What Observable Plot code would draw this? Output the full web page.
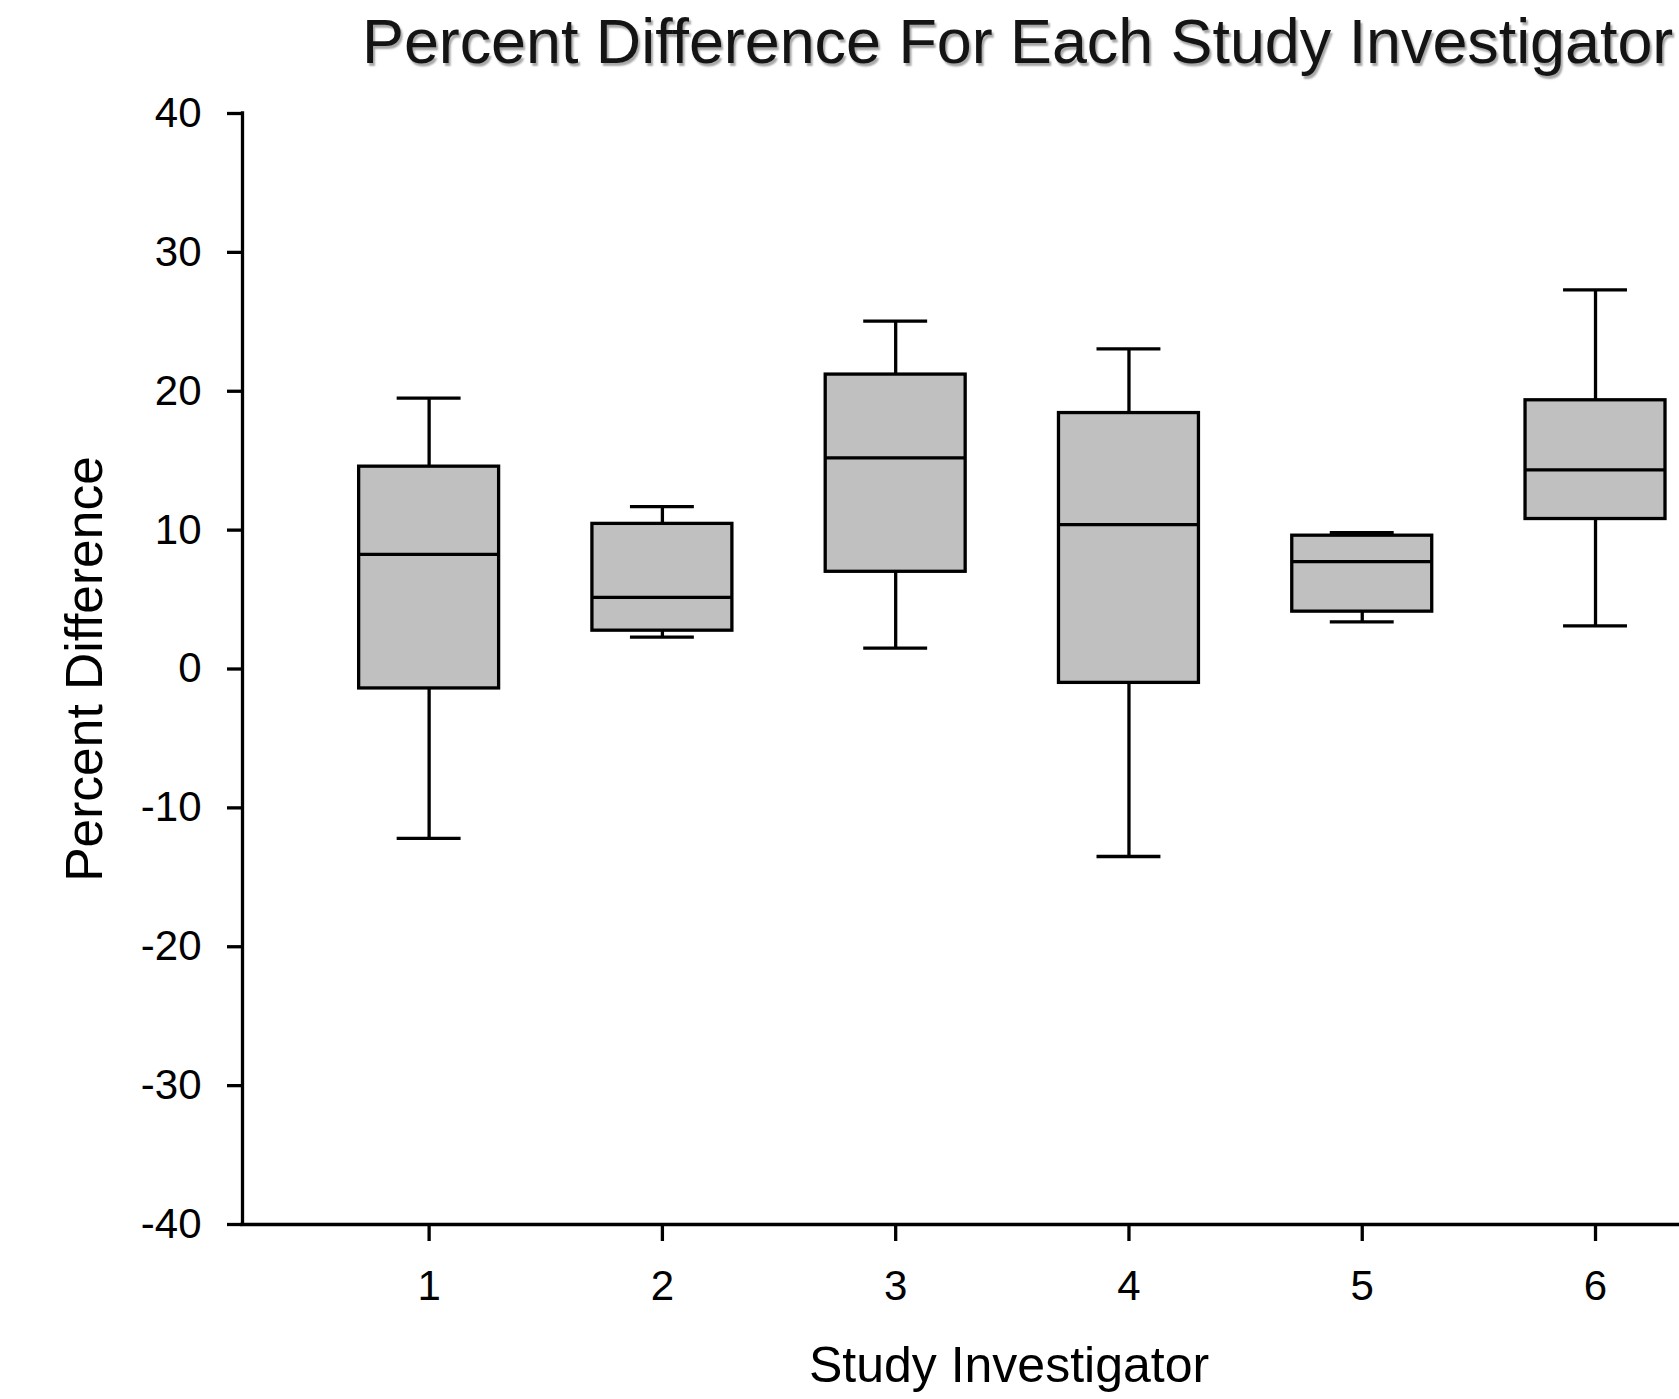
<!DOCTYPE html>
<html>
<head>
<meta charset="utf-8">
<script src="https://cdn.jsdelivr.net/npm/d3@7"></script>
<script src="https://cdn.jsdelivr.net/npm/@observablehq/plot@0.6"></script>
<style>
  html, body { margin: 0; padding: 0; background: #fff; overflow: hidden; width: 1679px; height: 1399px; }
  #title {
    height: 83px; line-height: 83px; padding-left: 362px; white-space: nowrap;
    font-family: "Liberation Sans", Arial, sans-serif; font-size: 62.8px; color: #141414;
    text-shadow: 2px 3px 2px rgba(0,0,0,0.35);
  }
</style>
</head>
<body>
<div id="title">Percent Difference For Each Study Investigator</div>
<div id="chart"></div>
<script>
// Data
const investigators = [1, 2, 3, 4, 5, 6];
const whiskerLow  = [-12.2, 2.3, 1.5, -13.5, 3.4, 3.1];
const q1          = [-1.4, 2.76, 7.0, -1.0, 4.13, 10.8];
const median      = [8.25, 5.16, 15.2, 10.4, 7.73, 14.34];
const q3          = [14.57, 10.45, 21.2, 18.43, 9.6, 19.35];
const whiskerHigh = [19.5, 11.69, 25.05, 23.05, 9.82, 27.3];
const yTicks = [-40, -30, -20, -10, 0, 10, 20, 30, 40];
const xLabel = "Study Investigator";
const yLabel = "Percent Difference";

const data = investigators.map((inv, i) => ({
  inv, low: whiskerLow[i], q1: q1[i], median: median[i], q3: q3[i], high: whiskerHigh[i]
}));

const boxHalf = 0.3;
const capHalf = 0.137;
const lw = 3.3;

const chart = Plot.plot({
  width: 1679,
  height: 1316,
  marginLeft: 242,
  marginRight: 0,
  marginTop: 30,
  marginBottom: 175,
  style: { fontFamily: "'Liberation Sans', Arial, sans-serif", fontSize: "42px", color: "black", background: "white" },
  x: { domain: [0.2, 6.36] },
  y: { domain: [-40, 40] },
  marks: [
    // axes
    Plot.axisX({ ticks: investigators, tickSize: 17, tickPadding: 29, strokeWidth: lw, fontSize: 42, tickFormat: d => String(d), label: null }),
    Plot.axisY({ ticks: yTicks, tickSize: 15, tickPadding: 26, strokeWidth: lw, fontSize: 42, tickFormat: d => String(d), label: null }),
    Plot.ruleY([-40], { stroke: "black", strokeWidth: lw, strokeLinecap: "square" }),
    Plot.ruleX([0.2], { y1: -40, y2: 40, stroke: "black", strokeWidth: lw, strokeLinecap: "square" }),
    // whiskers
    Plot.ruleX(data, { x: "inv", y1: "q3", y2: "high", stroke: "black", strokeWidth: lw }),
    Plot.ruleX(data, { x: "inv", y1: "low", y2: "q1", stroke: "black", strokeWidth: lw }),
    Plot.ruleY(data, { y: "high", x1: d => d.inv - capHalf, x2: d => d.inv + capHalf, stroke: "black", strokeWidth: lw }),
    Plot.ruleY(data, { y: "low", x1: d => d.inv - capHalf, x2: d => d.inv + capHalf, stroke: "black", strokeWidth: lw }),
    // boxes
    Plot.rect(data, { x1: d => d.inv - boxHalf, x2: d => d.inv + boxHalf, y1: "q1", y2: "q3", fill: "#c0c0c0", stroke: "black", strokeWidth: lw }),
    Plot.ruleY(data, { y: "median", x1: d => d.inv - boxHalf, x2: d => d.inv + boxHalf, stroke: "black", strokeWidth: lw }),
    // axis titles
    Plot.text([xLabel], { frameAnchor: "bottom", dx: 48, dy: 141, text: d => d, fontSize: 50, lineAnchor: "middle", textAnchor: "middle", fill: "black" }),
    Plot.text([yLabel], { frameAnchor: "left", dx: -157, dy: 0, rotate: -90, text: d => d, fontSize: 51.5, lineAnchor: "middle", textAnchor: "middle", fill: "black" })
  ]
});
document.getElementById("chart").appendChild(chart);
</script>
</body>
</html>
